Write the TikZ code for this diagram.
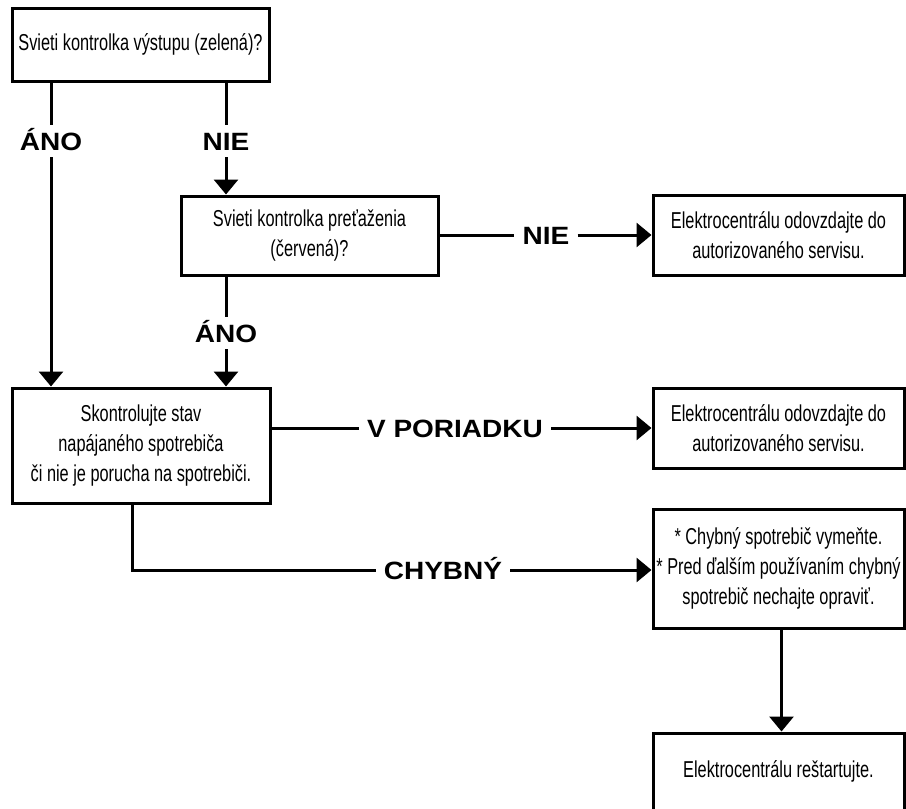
\documentclass[tikz,border=0pt]{standalone}
\usepackage{fontspec}
\setmainfont{Liberation Sans}[FakeStretch=0.71]
\newfontfamily\lblfont{Liberation Sans}[FakeStretch=1.12]
\usetikzlibrary{arrows.meta}
\begin{document}
\begin{tikzpicture}[x=1pt,y=-1pt,
  box/.style={draw, line width=3pt, inner sep=0pt, align=center, font=\fontsize{23}{30}\selectfont},
  lbl/.style={font=\lblfont\bfseries\fontsize{25}{30}\selectfont, text height=18pt, text depth=0pt, inner xsep=8pt, inner ysep=7pt},
  conn/.style={line width=3pt},
  arr/.style={conn, -{Triangle[width=24pt,length=15pt]}}]
\useasboundingbox (0,0) rectangle (906,809);

\node[box, minimum width=257pt, minimum height=73pt] (b1) at (140.5,44.5) {Svieti kontrolka výstupu (zelená)?};
\node[box, minimum width=257pt, minimum height=79pt] (b2) at (309.5,235.5) {Svieti kontrolka preťaženia\\(červená)?};
\node[box, minimum width=251pt, minimum height=80pt] (b3) at (778.5,235) {Elektrocentrálu odovzdajte do\\autorizovaného servisu.};
\node[box, minimum width=258pt, minimum height=115pt] (b4) at (141,445.5) {Skontrolujte stav\\napájaného spotrebiča\\či nie je porucha na spotrebiči.};
\node[box, minimum width=251pt, minimum height=80pt] (b6) at (778.5,428) {Elektrocentrálu odovzdajte do\\autorizovaného servisu.};
\node[box, minimum width=251pt, minimum height=119pt] (b5) at (778.5,568.5) {* Chybný spotrebič vymeňte.\\* Pred ďalším používaním chybný\\spotrebič nechajte opraviť.};
\node[box, minimum width=251pt, minimum height=77pt] (b7) at (778.5,771.5) {Elektrocentrálu reštartujte.};

\node[lbl] (l1) at (51,141) {ÁNO};
\draw[conn] (b1.south -| l1) -- (l1);
\draw[arr] (l1) -- (b4.north -| l1);

\node[lbl] (l2) at (226,141) {NIE};
\draw[conn] (b1.south -| l2) -- (l2);
\draw[arr] (l2) -- (b2.north -| l2);

\node[lbl] (l3) at (546,235) {NIE};
\draw[conn] (b2.east |- l3) -- (l3);
\draw[arr] (l3) -- (b3.west |- l3);

\node[lbl] (l4) at (226,333) {ÁNO};
\draw[conn] (b2.south -| l4) -- (l4);
\draw[arr] (l4) -- (b4.north -| l4);

\node[lbl] (l5) at (455,428) {V PORIADKU};
\draw[conn] (b4.east |- l5) -- (l5);
\draw[arr] (l5) -- (b6.west |- l5);

\node[lbl] (l6) at (443,570) {CHYBNÝ};
\coordinate (c1) at (132,570);
\draw[conn] (b4.south -| c1) -- (c1) -- (l6);
\draw[arr] (l6) -- (b5.west |- l6);

\draw[arr] ([xshift=3pt]b5.south) -- ([xshift=3pt]b7.north);
\end{tikzpicture}
\end{document}
